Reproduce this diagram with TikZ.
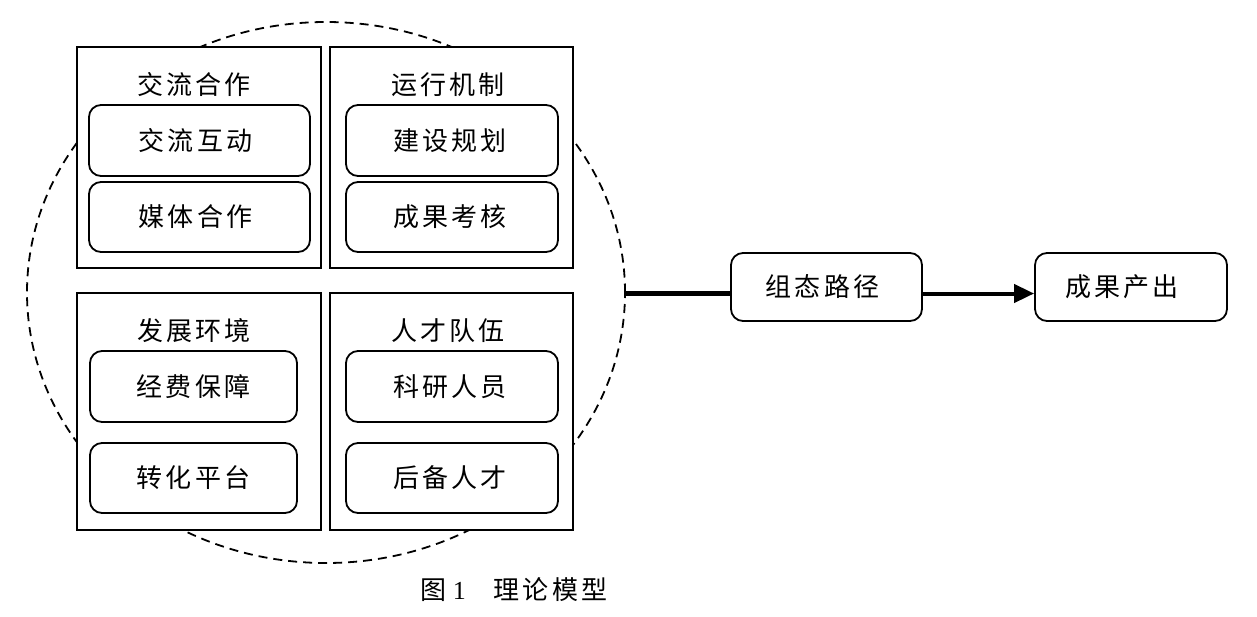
\documentclass[tikz,border=0pt]{standalone}
\usepackage{fontspec}
\setmainfont{Liberation Serif}
\newfontfamily\cjk[LetterSpace=12]{Noto Sans CJK SC}
\usetikzlibrary{shapes.geometric,arrows.meta}
\tikzset{
  outerbox/.style={draw,line width=1.8pt,fill=white,inner sep=0pt},
  innerbox/.style={draw,line width=1.8pt,fill=white,rounded corners=12pt,inner sep=0pt,font=\cjk\fontsize{26}{26}\selectfont},
  titletext/.style={inner sep=0pt,font=\cjk\fontsize{26}{26}\selectfont},
  ring/.style={draw,ellipse,line width=1.8pt,dash pattern=on 9pt off 6pt,inner sep=0pt},
}
\begin{document}
\begin{tikzpicture}[x=1pt,y=-1pt]
\useasboundingbox (0,0) rectangle (1257,616);
\node[ring,minimum width=598pt,minimum height=541pt] (ring) at (326,292.5) {};
% outer boxes
\node[outerbox,minimum width=244pt,minimum height=221pt] (tl) at (199,157.5) {};
\node[outerbox,minimum width=243pt,minimum height=221pt] (tr) at (451.5,157.5) {};
\node[outerbox,minimum width=244pt,minimum height=237pt] (bl) at (199,411.5) {};
\node[outerbox,minimum width=243pt,minimum height=237pt] (br) at (451.5,411.5) {};
% titles
\node[titletext] (t1) at (194,85) {交流合作};
\node[titletext] (t2) at (448,85) {运行机制};
\node[titletext] (t3) at (194,331) {发展环境};
\node[titletext] (t4) at (448,331) {人才队伍};
% inner boxes
\node[innerbox,minimum width=221pt,minimum height=71pt] (ia) at (199.5,140.5) {交流互动\hspace*{8pt}};
\node[innerbox,minimum width=221pt,minimum height=70pt] (ib) at (199.5,217) {媒体合作\hspace*{8pt}};
\node[innerbox,minimum width=212pt,minimum height=71pt] (ic) at (452,140.5) {建设规划\hspace*{4pt}};
\node[innerbox,minimum width=212pt,minimum height=70pt] (id) at (452,217) {成果考核\hspace*{4pt}};
\node[innerbox,minimum width=207pt,minimum height=71pt] (ie) at (193.5,386.5) {经费保障};
\node[innerbox,minimum width=207pt,minimum height=70pt] (if) at (193.5,478) {转化平台};
\node[innerbox,minimum width=212pt,minimum height=71pt] (ig) at (452,386.5) {科研人员\hspace*{4pt}};
\node[innerbox,minimum width=212pt,minimum height=70pt] (ih) at (452,478) {后备人才\hspace*{4pt}};
% right chain
\node[innerbox,minimum width=191pt,minimum height=68pt] (p1) at (826.5,287) {组态路径\hspace*{8pt}};
\node[innerbox,minimum width=192pt,minimum height=68pt] (p2) at (1131,287) {成果产出\hspace*{18pt}};
\coordinate (lineY) at (0,293.5);
\draw[line width=5.5pt] (ring.east |- lineY) -- (p1.west |- lineY);
\draw[line width=4pt,-{Triangle[length=20pt,width=18pt]}] (p1.east |- lineY) -- (p2.west |- lineY);
% caption
\node[inner sep=0pt,font=\fontsize{26}{26}\selectfont] (cap) at (514,590) {{\cjk 图}\hspace{6pt}1\hspace{28pt}{\cjk 理论模型}};
\end{tikzpicture}
\end{document}
